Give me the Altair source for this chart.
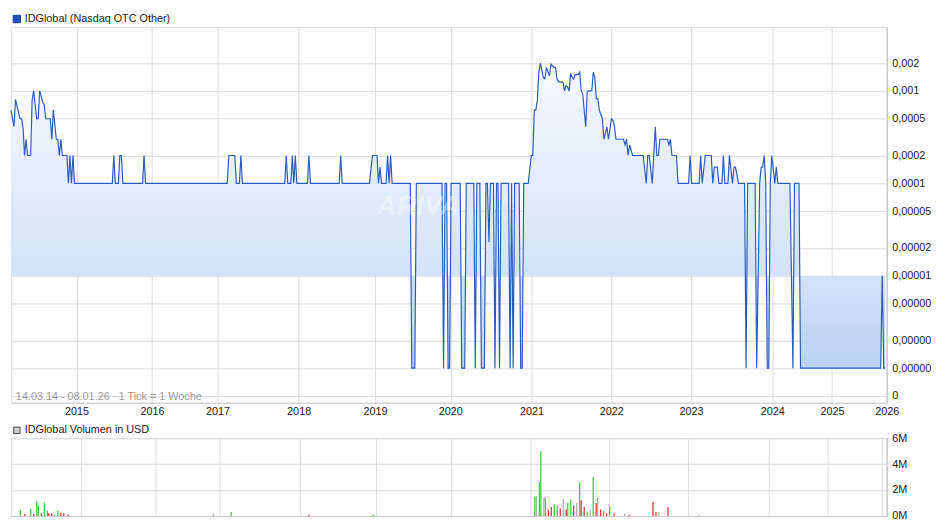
import altair as alt
import pandas as pd

# ---------------- data ----------------
T = 0.0001      # common price level
B = 0.000001    # bottom level
price_weeks = [0, 2, 3, 6, 7, 8, 9, 10, 11, 13, 14, 15, 17, 18, 19, 21, 22, 23, 26, 27, 28, 30, 31, 32, 33, 34, 37,
               38, 39, 40, 41, 42, 67, 68, 69, 71, 72, 73, 74, 87, 88, 89, 143, 144, 148, 149, 151, 152, 153,
               181, 182, 183, 185, 186, 187, 188, 189, 196, 197, 198, 217, 218, 219, 237, 239, 242, 243, 244, 245,
               248, 249, 250, 251, 252,
               264, 265, 267, 268, 285, 286, 287, 288, 289, 290, 291, 297, 298, 300, 301, 306, 307, 308, 310, 311,
               313, 314, 315, 316, 317, 319, 320, 321, 322, 323, 324, 329, 330, 331, 332, 333, 336, 337, 338, 339, 342,
               344, 345, 346, 347, 348, 349, 350, 352, 353, 354, 356, 357, 359, 360, 361, 362, 365, 366, 367, 368,
               369, 370, 371, 372, 373, 375, 376, 377, 378, 380, 381, 382, 384, 385, 386, 387, 388, 389, 391, 392,
               394, 395, 397, 398, 399, 400, 405, 406, 407, 408, 409, 411, 418, 420, 421, 422, 424, 426, 427, 428,
               429, 434, 435, 436, 437, 440, 441, 448, 449, 450, 455, 456, 457, 459, 463, 464, 465, 467, 468, 470,
               471, 472, 474, 475, 477, 478, 479, 481, 485, 486, 487, 492, 493, 495, 496, 497, 498, 499, 500, 501,
               502, 503, 505, 506, 507, 515, 517, 518, 521, 522, 575, 576, 577, 578]
price_values = [0.00062, 0.00041, 0.00081, 0.0005, 0.0005, 0.0004, 0.0002, 0.0003, 0.0002, 0.0002, 0.0008, 0.001,
                0.0005, 0.0005, 0.001, 0.00076, 0.0007, 0.0005, 0.0005, 0.0003, 0.00062, 0.0003, 0.0003, 0.0002,
                0.0003, 0.0002, 0.0002,
                T, 0.0002, T, 0.0002, T, T, 0.0002, T, T, 0.0002, 0.0002, T, T, 0.0002, T, T, 0.0002, 0.0002, T, T,
                0.0002, T,
                T, 0.0002, T, T, 0.0002, T, 0.0002, T, T, 0.0002, T, T, 0.0002, T, T, 0.0002, 0.0002, T, 0.00015, T,
                T, 0.0002, T, 0.0002, T,
                T, B, B, T, T, B, T, T, B, B, T, T, B, B, T, T, B, T, T, B,
                B, T, T, 0.000023, T, T, B, T, T, B, T, T, B, T, B, T, T, B, B, T, T,
                0.0002, 0.0002, 0.00062, 0.00062, 0.00079, 0.0016, 0.002, 0.0014, 0.00135, 0.0018, 0.00146, 0.00195,
                0.0018, 0.0018, 0.00135, 0.00126, 0.00124, 0.001, 0.00114, 0.0011,
                0.001, 0.00155, 0.0014, 0.00135, 0.0015, 0.0015, 0.0016, 0.001, 0.00093, 0.00041, 0.00098, 0.001,
                0.001, 0.0016, 0.0014, 0.00082, 0.00082, 0.00062, 0.0005, 0.0003,
                0.00041, 0.0003, 0.0005, 0.00048, 0.00041, 0.0003, 0.0003, 0.00026, 0.0003, 0.0002, 0.00026, 0.0002,
                0.0002, T, 0.0002, 0.0002, T, 0.00041, 0.0002, 0.0002,
                0.0003, 0.0003, 0.00026, 0.0003, 0.0002, 0.0002, T, T, 0.0002, T, T, 0.0002, T, 0.0002, 0.0002, T,
                0.00015, 0.00015, T, T,
                0.0002, T, T, 0.0002, T, 0.00015, 0.00015, T, T, B, T, T, B, T, 0.00015, 0.00015, 0.0002, T, B, B,
                T, 0.0002, T, 0.00015, T, T, B, T, T, B, B, 0.00001, B, B]

vol_weeks = [3, 6, 10, 12, 14, 15, 17, 19, 21, 22, 24, 26, 28, 30, 32, 35, 132, 144, 196, 239,
             347, 348, 350, 351, 353, 354, 356, 358, 360, 362, 364, 366, 368, 369, 371, 373, 375, 377, 378, 380,
             382, 384, 386, 388, 389, 391, 393, 395, 397, 400, 407, 410, 426, 428, 430, 436, 457]
vol_values = [0.45, 0.15, 0.55, 0.15, 1.13, 0.8, 0.2, 1.05, 0.4, 0.2, 0.2, 0.1, 0.4, 0.25, 0.2, 0.1, 0.15, 0.3,
              0.1, 0.1,
              1.5, 1.55, 2.6, 5.0, 1.4, 1.4, 0.5, 0.7, 0.9, 0.8, 0.6, 1.3, 0.5, 1.0, 1.25, 0.8, 1.0, 2.6, 1.2, 0.7,
              0.3, 0.5, 3.0, 1.0, 1.4, 0.5, 0.4, 0.2, 0.7, 0.2, 0.15, 0.1, 1.1, 0.3, 0.3, 0.7, 0.1]
vol_dirs = ["up", "down", "up", "down", "up", "up", "down", "up", "up", "down", "down", "flat", "up", "down",
            "down", "down", "flat", "up", "down", "up",
            "up", "flat", "up", "up", "flat", "up", "down", "down", "up", "up", "down", "flat", "down", "up", "up",
            "down", "flat", "up", "down", "down",
            "up", "flat", "up", "down", "flat", "down", "up", "down", "up", "down", "flat", "down", "down", "down",
            "flat", "down", "flat"]

year_weeks = [43.3, 93.2, 136.5, 190.2, 240.7, 290.5, 344.2, 396.9, 449.6, 503.3, 542.8, 579]
year_labels = ["2015", "2016", "2017", "2018", "2019", "2020", "2021", "2022", "2023", "2024", "2025", "2026"]

y_ticks = [0.002, 0.001, 0.0005, 0.0002, 0.0001, 0.00005, 0.00002, 0.00001, 0.000005, 0.000002, 0.000001,
           0.0000005]
y_tick_labels = ["0,002", "0,001", "0,0005", "0,0002", "0,0001", "0,00005", "0,00002", "0,00001", "0,00000",
                 "0,00000", "0,00000", "0"]

vol_ticks = [0, 2, 4, 6]
vol_tick_labels = ["0M", "2M", "4M", "6M"]

BASE = 0.00001
X_MAX = 579
price_title = "IDGlobal (Nasdaq OTC Other)"
vol_title = "IDGlobal Volumen in USD"
range_text = "14.03.14 - 08.01.26\u00a0\u00a0\u00a01 Tick = 1 Woche"

# ---------------- chart ----------------
FONT = "Liberation Sans"
W, H1, H2 = 890, 382, 79

pdf = pd.DataFrame({"week": price_weeks, "value": price_values})
pdf["base"] = BASE
vdf = pd.DataFrame({"week": vol_weeks, "vol": vol_values, "dir": vol_dirs})

y_expr = ""
for t, lab in zip(y_ticks, y_tick_labels):
    y_expr += f"datum.value > {t * 0.8} ? '{lab}' : "
y_expr += "''"
x_expr = ""
for w, lab in zip(year_weeks, year_labels):
    x_expr += f"datum.value < {w + 1} ? '{lab}' : "
x_expr += "''"
v_expr = ""
for t, lab in zip(vol_ticks, vol_tick_labels):
    v_expr += f"datum.value < {t + 0.5} ? '{lab}' : "
v_expr += "''"

xscale = alt.Scale(domain=[0, X_MAX], nice=False, zero=False)
yscale = alt.Scale(type="log", domain=[4.22e-7, 0.00493], nice=False)

grid_c = "#dcdcdc"
xaxis = alt.Axis(values=year_weeks, labelExpr=x_expr, title=None, grid=True, gridColor=grid_c, ticks=False,
                 domainColor="#cccccc", labelColor="#222222", labelFontSize=11, labelFont=FONT, labelPadding=3,
                 labelFlush=False)
yaxis = alt.Axis(orient="right", values=y_ticks, labelExpr=y_expr, title=None, grid=True, gridColor=grid_c,
                 ticks=False, domainColor="#cccccc", domainWidth=1.5, labelColor="#222222", labelFontSize=11,
                 labelFont=FONT, labelPadding=5)

grad = alt.Gradient(gradient="linear",
                    stops=[alt.GradientStop(color="#f6f9fe", offset=0),
                           alt.GradientStop(color="#d2e2f8", offset=0.7),
                           alt.GradientStop(color="#bad1f3", offset=1)],
                    x1=0, x2=0, y1=0, y2=1)

base = alt.Chart(pdf)
area = base.mark_area(color=grad).encode(
    x=alt.X("week:Q", scale=xscale, axis=xaxis),
    y=alt.Y("value:Q", scale=yscale, axis=yaxis),
    y2="base:Q",
)
line = base.mark_line(color="#2a5cbf", strokeWidth=1.2).encode(
    x=alt.X("week:Q", scale=xscale, axis=xaxis),
    y=alt.Y("value:Q", scale=yscale, axis=yaxis),
)

ann = pd.DataFrame({"t": [0]})
watermark = alt.Chart(ann).mark_text(text="ARIVA", font=FONT, fontSize=28, fontStyle="italic",
                                     fontWeight="bold", color="#ffffff", opacity=0.35).encode(
    x=alt.value(414), y=alt.value(183))
rng = alt.Chart(ann).mark_text(text=range_text, font=FONT, fontSize=11, color="#9a9a9a", align="left",
                               baseline="middle").encode(x=alt.value(5), y=alt.value(H1 - 6))
p_sq = alt.Chart(ann).mark_square(size=56, fill="#1f55bb", stroke="#173f8c", strokeWidth=1,
                                  opacity=1).encode(x=alt.value(6), y=alt.value(-8))
p_tt = alt.Chart(ann).mark_text(text=price_title, font=FONT, fontSize=11, color="#222222", align="left",
                                baseline="middle").encode(x=alt.value(14), y=alt.value(-8))

price = alt.layer(area, line, watermark, rng, p_sq, p_tt).properties(width=W, height=H1)

vol_bars = alt.Chart(vdf).mark_bar(width=1.3).encode(
    x=alt.X("week:Q", scale=xscale,
            axis=alt.Axis(values=year_weeks, labels=False, ticks=False, grid=True, gridColor=grid_c, title=None,
                          domainColor="#cccccc")),
    y=alt.Y("vol:Q", scale=alt.Scale(domain=[0, 6], nice=False, zero=True),
            axis=alt.Axis(orient="right", values=vol_ticks, labelExpr=v_expr, title=None, grid=True,
                          gridColor=grid_c, ticks=False, domainColor="#cccccc", domainWidth=1.5,
                          labelColor="#222222", labelFontSize=11, labelFont=FONT, labelPadding=5)),
    color=alt.Color("dir:N", scale=alt.Scale(domain=["up", "down", "flat"],
                                             range=["#3fcc3f", "#dd3b3b", "#aaaaaa"]), legend=None),
)
v_sq = alt.Chart(ann).mark_square(size=42, fill="#cfcfcf", stroke="#444444", strokeWidth=1,
                                  opacity=1).encode(x=alt.value(6), y=alt.value(-8))
v_tt = alt.Chart(ann).mark_text(text=vol_title, font=FONT, fontSize=11, color="#222222", align="left",
                                baseline="middle").encode(x=alt.value(14), y=alt.value(-8))
volume = alt.layer(vol_bars, v_sq, v_tt).properties(width=W, height=H2)

chart = alt.vconcat(price, volume, spacing=6).properties(
    padding={"left": 0, "top": 0, "right": 0, "bottom": 0}
).configure_view(stroke="#d8d8d8").configure(background="#ffffff")

chart.save("out.html", embed_options={"renderer": "svg", "actions": False})
